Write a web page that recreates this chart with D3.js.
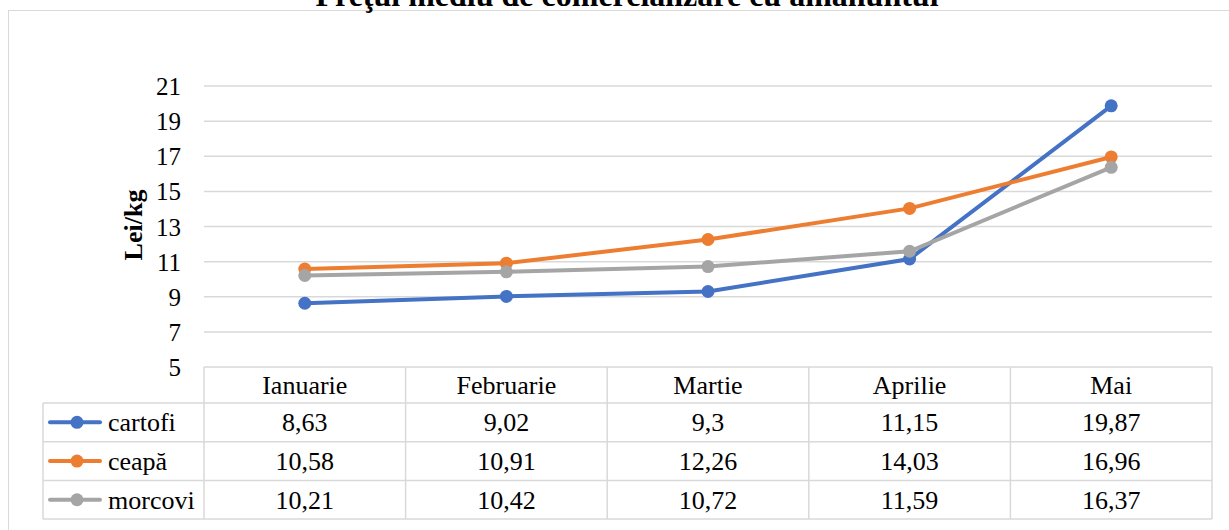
<!DOCTYPE html>
<html>
<head>
<meta charset="utf-8">
<script src="https://cdn.jsdelivr.net/npm/d3@7"></script>
<style>
  body { margin: 0; background: #fff; }
  svg text { font-family: "Liberation Serif", "Times New Roman", serif; fill: #000; }
</style>
</head>
<body>
<div id="chart"></div>
<script>
// data
var months = ['Ianuarie', 'Februarie', 'Martie', 'Aprilie', 'Mai'];
var cartofi = [8.63, 9.02, 9.3, 11.15, 19.87];
var ceapa = [10.58, 10.91, 12.26, 14.03, 16.96];
var morcovi = [10.21, 10.42, 10.72, 11.59, 16.37];
var seriesNames = ['cartofi', 'ceapă', 'morcovi'];
var seriesColors = ['#4472C4', '#ED7D31', '#A5A5A5'];
var yTicks = [5, 7, 9, 11, 13, 15, 17, 19, 21];

var series = [cartofi, ceapa, morcovi].map(function (v, i) {
  return { name: seriesNames[i], color: seriesColors[i], values: v };
});

var W = 1229, H = 530;
// plot box (don't call it "top", window.top is taken)
var plotL = 204, plotR = 1212, plotT = 86, plotB = 367;
var rowH = 38.7, headH = 36, legendLeft = 43;
var fs = '26px';
var serif = '"Liberation Serif", "Times New Roman", serif';

var svg = d3.select('#chart').append('svg')
    .attr('width', W)
    .attr('height', H)
    .attr('font-family', serif);

// outer frame
svg.append('rect')
    .attr('x', 8.5).attr('y', 10.5)
    .attr('width', W + 20).attr('height', H + 20)
    .attr('fill', 'none').attr('stroke', '#d9d9d9');

// title (cut at top like in the picture)
svg.append('text')
    .attr('x', 627).attr('y', 6)
    .attr('text-anchor', 'middle')
    .style('font-size', '32px').style('font-weight', 'bold')
    .text('Preţul mediu de comercializare cu amănuntul');

var x = d3.scaleBand().domain(months).range([plotL, plotR]);
var y = d3.scaleLinear().domain([5, 21]).range([plotB, plotT]);

// grid
svg.append('g').selectAll('line').data(yTicks.slice(1)).join('line')
    .attr('x1', plotL).attr('x2', plotR)
    .attr('y1', function (d) { return y(d); })
    .attr('y2', function (d) { return y(d); })
    .attr('stroke', '#d9d9d9').attr('stroke-width', 1.5);

// y axis labels
var yAxis = d3.axisLeft(y).tickValues(yTicks).tickSize(0).tickPadding(13);
var ya = svg.append('g').attr('transform', 'translate(' + (plotL - 10) + ',0)').call(yAxis);
ya.attr('font-family', serif);
ya.select('.domain').remove();
ya.selectAll('text').style('font-size', '25px').attr('dy', '0.34em');

svg.append('text')
    .attr('transform', 'translate(142,' + 225 + ') rotate(-90)')
    .attr('text-anchor', 'middle')
    .style('font-size', '26px').style('font-weight', 'bold')
    .text('Lei/kg');

// lines
var line = d3.line()
    .x(function (d, i) { return x(months[i]) + x.bandwidth() / 2; })
    .y(function (d) { return y(d); });

var sg = svg.append('g').selectAll('g').data(series).join('g');
sg.append('path')
    .attr('d', function (d) { return line(d.values); })
    .attr('fill', 'none')
    .attr('stroke', function (d) { return d.color; })
    .attr('stroke-width', 4)
    .attr('stroke-linecap', 'round');
sg.selectAll('circle').data(function (d) {
    return d.values.map(function (v, i) { return { v: v, i: i, c: d.color }; });
  }).join('circle')
    .attr('cx', function (d) { return x(months[d.i]) + x.bandwidth() / 2; })
    .attr('cy', function (d) { return y(d.v); })
    .attr('r', 6.5)
    .attr('fill', function (d) { return d.c; });

// data table
var tb = svg.append('g');
var tableBottom = plotB + headH + rowH * series.length;
var grid = '#d9d9d9';

// horizontal lines
tb.append('line').attr('x1', plotL).attr('x2', plotR)
    .attr('y1', plotB).attr('y2', plotB).attr('stroke', grid).attr('stroke-width', 1.5);
d3.range(series.length + 1).forEach(function (r) {
  var yy = plotB + headH + r * rowH;
  tb.append('line').attr('x1', legendLeft).attr('x2', plotR)
      .attr('y1', yy).attr('y2', yy).attr('stroke', grid).attr('stroke-width', 1.5);
});
// vertical lines
tb.append('line').attr('x1', legendLeft).attr('x2', legendLeft)
    .attr('y1', plotB + headH).attr('y2', tableBottom).attr('stroke', grid).attr('stroke-width', 1.5);
months.forEach(function (m) {
  tb.append('line').attr('x1', x(m)).attr('x2', x(m))
      .attr('y1', plotB).attr('y2', tableBottom).attr('stroke', grid).attr('stroke-width', 1.5);
});
tb.append('line').attr('x1', plotR).attr('x2', plotR)
    .attr('y1', plotB).attr('y2', tableBottom).attr('stroke', grid).attr('stroke-width', 1.5);

// header
tb.selectAll('text.head').data(months).join('text')
    .attr('class', 'head')
    .attr('x', function (d) { return x(d) + x.bandwidth() / 2; })
    .attr('y', plotB + headH / 2)
    .attr('dy', '0.35em')
    .attr('text-anchor', 'middle')
    .style('font-size', fs)
    .text(function (d) { return d; });

var fmt = function (v) { return String(v).replace('.', ','); };

series.forEach(function (s, r) {
  var cy = plotB + headH + r * rowH + rowH / 2;
  tb.append('line').attr('x1', 50).attr('x2', 100)
      .attr('y1', cy).attr('y2', cy)
      .attr('stroke', s.color).attr('stroke-width', 4).attr('stroke-linecap', 'round');
  tb.append('circle').attr('cx', 77).attr('cy', cy).attr('r', 6.5).attr('fill', s.color);
  tb.append('text').attr('x', 108).attr('y', cy).attr('dy', '0.35em')
      .style('font-size', fs).text(s.name);
  s.values.forEach(function (v, i) {
    tb.append('text')
        .attr('x', x(months[i]) + x.bandwidth() / 2)
        .attr('y', cy).attr('dy', '0.35em')
        .attr('text-anchor', 'middle')
        .style('font-size', fs)
        .text(fmt(v));
  });
});
</script>
</body>
</html>
